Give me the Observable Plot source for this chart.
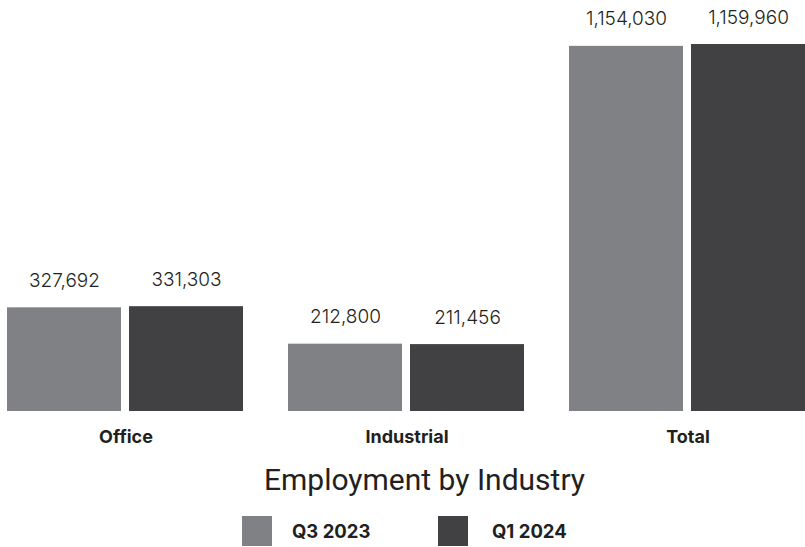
<!DOCTYPE html>
<html>
<head>
<meta charset="utf-8">
<script src="https://cdn.jsdelivr.net/npm/d3@7"></script>
<script src="https://cdn.jsdelivr.net/npm/@observablehq/plot@0.6"></script>
<style>
  html, body { margin: 0; padding: 0; background: #fff; width: 805px; height: 547px; overflow: hidden; }
  #chart svg [aria-label="fx-axis tick label"] text { font-weight: 700; }
  .title { text-align: center; font-family: Roboto, sans-serif; font-size: 30px; color: #231f20; margin-top: 12px; height: 36px; line-height: 36px; padding-left: 44px; }
  .legend { position: absolute; top: 516px; left: 0; width: 805px; height: 30px; font-family: Inter, sans-serif; font-weight: 700; font-size: 18.5px; color: #231f20; }
  .sw { position: absolute; width: 30px; height: 30px; top: 0; }
  .lab { position: absolute; top: 0; line-height: 30px; }
</style>
</head>
<body>
<div id="chart"></div>
<div class="title">Employment by Industry</div>
<div class="legend" id="legend"></div>
<script>
const categories = ["Office", "Industrial", "Total"];
const seriesNames = ["Q3 2023", "Q1 2024"];
const q3_2023 = [327692, 212800, 1154030];
const q1_2024 = [331303, 211456, 1159960];
const colors = ["#808185", "#414143"];

const data = [];
categories.forEach((c, i) => {
  data.push({category: c, series: seriesNames[0], value: q3_2023[i]});
  data.push({category: c, series: seriesNames[1], value: q1_2024[i]});
});

const fmt = d3.format(",");

const chart = Plot.plot({
  width: 805,
  height: 450,
  marginTop: 44,
  marginBottom: 39,
  marginLeft: 6,
  marginRight: 0,
  style: {fontFamily: "Inter, sans-serif", color: "#231f20", background: "#fff"},
  fx: {domain: categories, range: [6, 808], paddingInner: 0.156, paddingOuter: 0, label: null},
  x: {domain: seriesNames, paddingInner: 0.065, paddingOuter: 0, axis: null},
  y: {domain: [0, 1159960], axis: null},
  color: {domain: seriesNames, range: colors},
  marks: [
    Plot.barY(data, {fx: "category", x: "series", y: "value", fill: "series"}),
    Plot.text(data, {fx: "category", x: "series", y: "value", text: d => fmt(d.value), dy: -27, fontSize: 19, fontWeight: 300, fill: "#231f20"}),
    Plot.axisFx({anchor: "bottom", tickSize: 0, tickPadding: 19, fontSize: 18, label: null})
  ]
});
document.getElementById("chart").appendChild(chart);

const legend = document.getElementById("legend");
const lx = [242, 438];
const tx = [292, 492];
seriesNames.forEach((s, i) => {
  const sw = document.createElement("div");
  sw.className = "sw";
  sw.style.left = lx[i] + "px";
  sw.style.background = colors[i];
  legend.appendChild(sw);
  const lab = document.createElement("div");
  lab.className = "lab";
  lab.style.left = tx[i] + "px";
  lab.textContent = s;
  legend.appendChild(lab);
});
</script>
</body>
</html>
